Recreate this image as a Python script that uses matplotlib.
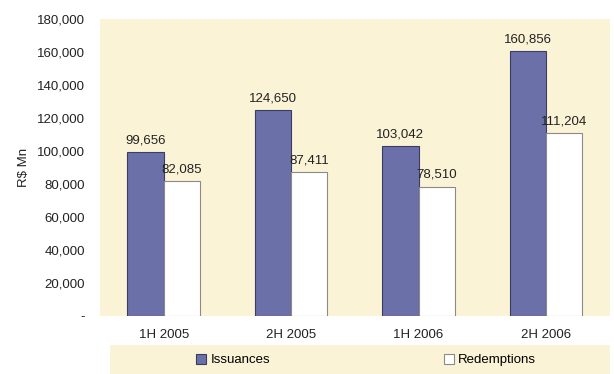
import matplotlib.pyplot as plt
import numpy as np
from matplotlib.patches import Rectangle
from matplotlib.ticker import FuncFormatter

plt.rcParams['font.family'] = ['Liberation Sans', 'DejaVu Sans']

periods = ['1H 2005', '2H 2005', '1H 2006', '2H 2006']
issuances = [99656, 124650, 103042, 160856]
redemptions = [82085, 87411, 78510, 111204]

cream = '#fbf3d6'
blue = '#6b70a8'
fs = 9.5

fig = plt.figure(figsize=(6.14, 3.74), dpi=100)
ax = fig.add_axes([0.163, 0.155, 0.83, 0.794])
ax.set_facecolor(cream)

x = np.arange(len(periods))
w = 0.285
b1 = ax.bar(x - w / 2, issuances, w, color=blue, edgecolor='#3a3d63', linewidth=0.8, label='Issuances')
b2 = ax.bar(x + w / 2, redemptions, w, color='white', edgecolor='#8a8a8a', linewidth=0.8, label='Redemptions')

for bars in (b1, b2):
    for p in bars:
        ax.annotate(f"{p.get_height():,.0f}",
                    (p.get_x() + p.get_width() / 2, p.get_height()),
                    xytext=(0, 4), textcoords='offset points',
                    ha='center', va='bottom', fontsize=fs, color='#222222')

ax.set_xlim(-0.5, len(periods) - 0.5)
ax.set_ylim(0, 180000)
ax.set_yticks(np.arange(0, 180001, 20000))
ax.yaxis.set_major_formatter(FuncFormatter(lambda v, _: '-' if v == 0 else f"{v:,.0f}"))
ax.set_xticks(x)
ax.set_xticklabels(periods)
ax.tick_params(axis='both', length=0, labelsize=fs, colors='#222222')
ax.tick_params(axis='x', pad=9)
ax.tick_params(axis='y', pad=11)
ax.set_ylabel('R$ Mn', fontsize=fs, color='#222222', labelpad=5)

for s in ax.spines.values():
    s.set_visible(False)

# legend band under the chart
fig.patches.append(Rectangle((110 / 614, 0), 500 / 614, 29 / 374,
                             transform=fig.transFigure, facecolor=cream,
                             edgecolor='none', zorder=0))
for handle, cx in ((b1, 233 / 614), (b2, 490 / 614)):
    fig.legend([handle], [handle.get_label()], loc='center',
               bbox_to_anchor=(cx, 14 / 374), frameon=False,
               fontsize=fs, handlelength=0.8, handleheight=0.8,
               handletextpad=0.3)

fig.savefig('out.png', dpi=100)
